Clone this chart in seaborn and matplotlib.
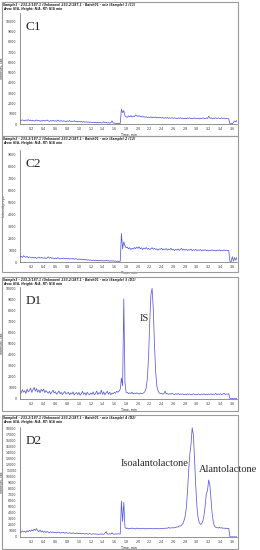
import numpy as np
import pandas as pd
import matplotlib
matplotlib.use("Agg")
import matplotlib.pyplot as plt
from matplotlib.patches import Rectangle
import seaborn as sns

# Retention time grid (min) shared by all four chromatograms
time = np.round(np.arange(0, 3.69, 0.02), 2)

# C1 - blank, isoalantolactone/alantolactone channel
c1 = [380, 340, 400, 360, 310, 390, 350, 420, 330, 370,
      300, 360, 280, 340, 390, 310, 350, 270, 330, 300,
      360, 290, 340, 380, 300, 260, 330, 290, 350, 280,
      320, 260, 380, 300, 270, 330, 250, 310, 280, 240,
      300, 260, 330, 220, 280, 250, 310, 230, 270, 210,
      250, 200, 260, 180, 230, 170, 220, 160, 200, 150,
      190, 140, 180, 120, 170, 110, 160, 130, 150, 100,
      140, 210, 120, 160, 90, 130, 80, 120, 300, 100,
      90, 60, 40, 70, 30,
      60, 1450, 1100, 1300, 800, 700,
      650, 780, 700, 820, 680, 760, 720, 880, 800,
      750, 820, 700, 760, 680, 720, 650, 700, 620, 680,
      640, 700, 600, 660, 620, 680, 590, 640, 600, 650,
      580, 630, 560, 610, 570, 640, 550, 600, 560, 620,
      540, 600, 560, 520, 590, 550, 610, 530, 570, 500,
      560, 520, 580, 540, 600, 510, 560, 530, 590, 540,
      520, 570, 500, 560, 530, 600, 550, 520, 580, 540,
      760, 560, 600, 520, 570, 540, 610, 530, 580, 550,
      520, 600, 540, 580, 510, 560, 530,
      500, 20, 40, 10, 150, 300, 200, 350]

# C2 - blank, IS channel
c2 = [420, 480, 380, 520, 450, 400, 470, 360, 430, 390,
      350, 410, 330, 390, 300, 360, 420, 320, 380, 340,
      310, 370, 290, 350, 430, 320, 380, 300, 340, 280,
      330, 270, 360, 300, 250, 320, 280, 340, 260, 300,
      270, 330, 240, 290, 260, 310, 230, 280, 250, 210,
      260, 200, 250, 180, 230, 170, 210, 160, 190, 140,
      170, 130, 160, 110, 150, 100, 140, 90, 130, 100,
      120, 80, 110, 150, 90, 120, 70, 100, 80, 110,
      60, 90, 50, 80, 40,
      60, 2400, 1100, 1700, 1350, 1200,
      1250, 1100, 1200, 1050, 1150, 1080, 1220, 1120, 1250,
      1150, 1280, 1100, 1200, 1050, 1180, 1100, 1220, 1080, 1150,
      1050, 1120, 1200, 1080, 1150, 1050, 1110, 1000, 1100, 1060,
      1150, 1020, 1100, 1050, 1130, 1000, 1080, 1040, 1150, 1020,
      1080, 960, 1060, 1000, 1100, 980, 1050, 1150, 1000, 1070,
      990, 1060, 970, 1040, 1000, 1080, 960, 1030, 990, 1060,
      950, 1020, 980, 1050, 940, 1010, 970, 1040, 960, 1000,
      930, 1000, 960, 1030, 950, 990, 920, 1000, 960, 1020,
      940, 990, 960, 1010, 950, 1000, 970,
      980, 60, 20, 450, 80, 380, 150, 400]

# D1 - spiked sample, IS channel
d1 = [700, 550, 850, 620, 760, 500, 900, 650, 780, 980,
      600, 850, 1050, 700, 950, 620, 820, 560, 880, 700,
      900, 580, 760, 640, 520, 700, 450, 620, 800, 540,
      660, 430, 580, 720, 480, 600, 400, 560, 680, 450,
      520, 620, 380, 560, 450, 640, 360, 520, 580, 400,
      600, 350, 480, 700, 420, 560, 340, 620, 460, 380,
      550, 420, 640, 380, 500, 720, 400, 580, 460, 800,
      420, 650, 380, 560, 700, 440, 620, 380, 540, 480,
      600, 520, 700, 620, 700,
      900, 1900, 1200, 9100, 1500, 600,
      600, 480, 560, 500, 620, 460, 540, 480, 560,
      500, 450, 540, 480, 520, 560, 700, 1000, 1900, 3800,
      7000, 9500, 10050, 8200, 5000, 2500, 1200, 750, 560, 480,
      520, 440, 480, 720, 460, 500, 420, 480, 440, 520,
      450, 400, 480, 430, 500, 410, 470, 420, 460, 400,
      440, 390, 470, 420, 450, 380, 430, 470, 410, 440,
      400, 460, 420, 380, 450, 410, 470, 390, 430, 400,
      450, 410, 480, 400, 440, 420, 500, 390, 460, 420,
      470, 400, 450, 520, 410, 460, 430,
      480, 40, 30, 50, 30, 40, 30, 40]

# D2 - spiked sample, analyte channel
d2 = [900, 800, 1000, 850, 950, 780, 1050, 880, 1100, 950,
      1200, 1000, 1300, 1100, 1400, 1050, 900, 1150, 850, 1000,
      800, 950, 750, 900, 820, 700, 880, 760, 840, 700,
      800, 680, 760, 820, 650, 740, 700, 780, 620, 720,
      680, 600, 720, 640, 580, 700, 620, 560, 660, 600,
      560, 640, 520, 600, 540, 500, 580, 520, 480, 560,
      500, 460, 540, 480, 520, 450, 500, 430, 520, 470,
      500, 440, 620, 900, 520, 460, 540, 480, 700, 500,
      460, 520, 480, 550, 500,
      520, 6000, 2600, 5800, 1600, 1400,
      1500, 1350, 1450, 1400, 1500, 1380, 1420, 1350, 1480,
      1400, 1450, 1350, 1420, 1380, 1460, 1340, 1400, 1440, 1360,
      1420, 1380, 1450, 1350, 1400, 1430, 1370, 1410, 1350, 1440,
      1400, 1380, 1460, 1420, 1500, 1450, 1600, 1480, 1520, 1550,
      1500, 1600, 1580, 1700, 1650, 1850, 1800, 2000, 2200, 2700,
      3400, 4800, 7500, 11000, 13800, 15500, 18200, 17000, 13000, 8500,
      5200, 3200, 2400, 2100, 2200, 2600, 3600, 5200, 7200, 7800,
      9500, 8600, 6200, 3800, 2400, 1800, 1600, 1550, 1500, 1600,
      1500, 1550, 1450, 1500, 1420, 1480, 1400,
      1450, 30, 20, 40, 20, 30, 20, 30]

panel_names = ["C1", "C2", "D1", "D2"]
traces = [c1, c2, d1, d2]
y_tops = [10800, 9420, 10180, 18330]
y_steps = [[0, 10000], [0, 9000], [0, 10000], [0, 18000]]
headers = [
    ["Sample1 - 233.2/187.1 (Unknown) 233.2/187.1 - Batch01 - m/z (Sample) 1 (C1)",
     "Area: N/A, Height: N/A, RT: N/A min"],
    ["Sample2 - 233.2/187.1 (Unknown) 233.2/187.1 - Batch01 - m/z (Sample) 2 (C2)",
     "Area: N/A, Height: N/A, RT: N/A min"],
    ["Sample3 - 233.2/187.1 (Unknown) 233.2/187.1 - Batch01 - m/z (Sample) 3 (D1)",
     "Area: N/A, Height: N/A, RT: N/A min"],
    ["Sample4 - 233.2/187.1 (Unknown) 233.2/187.1 - Batch01 - m/z (Sample) 4 (D2)",
     "Area: N/A, Height: N/A, RT: N/A min"],
]
peak_labels = {"D1": [("IS", 2.10, 7360)],
               "D2": [("Isoalantolactone", 2.29, 12170), ("Alantolactone", 3.53, 11170)]}

x_ticks = np.round(np.arange(0.2, 3.61, 0.2), 1)

# panel boxes (px from top) and plot areas (px from top)
box_px = [(2, 136), (136, 272), (277, 411), (415, 549)]
plot_px = [(13, 124), (150, 262), (287, 399), (427, 537)]

sns.set_style("white")
plt.rcParams["font.family"] = ["DejaVu Sans"]

W, H = 260, 550
fig = plt.figure(figsize=(W / 100, H / 100), dpi=100)
line_col = "#5a5ae0"

for k, name in enumerate(panel_names):
    top, bot = box_px[k]
    fig.add_artist(Rectangle((2 / W, 1 - bot / H), 236 / W, (bot - top) / H,
                             transform=fig.transFigure, fill=False,
                             edgecolor="#9a9a9a", linewidth=0.8))
    fig.text(3 / W, 1 - (top + 1.2) / H, headers[k][0], fontsize=2.2,
             fontweight="bold", style="italic", va="top", ha="left")
    fig.text(3 / W, 1 - (top + 5.0) / H, headers[k][1], fontsize=2.2,
             fontweight="bold", style="italic", va="top", ha="left")

    ptop, pbot = plot_px[k]
    ax = fig.add_axes([20 / W, 1 - pbot / H, 217 / W, (pbot - ptop) / H])
    df = pd.DataFrame({"time": time, "intensity": traces[k]})
    sns.lineplot(data=df, x="time", y="intensity", ax=ax, color=line_col,
                 linewidth=0.55)
    ax.set_xlim(0, 3.68)
    ax.set_ylim(0, y_tops[k])
    ax.set_xticks(x_ticks)
    ax.set_xticklabels([f"{v:.1f}" for v in x_ticks])
    yt = np.arange(y_steps[k][0], y_steps[k][1] + 1, 1000)
    ax.set_yticks(yt)
    ax.set_yticklabels([str(v) for v in yt])
    ax.tick_params(axis="both", labelsize=2.3, length=1.2, width=0.4, pad=1.2,
                   colors="#333333")
    for s in ["top", "right"]:
        ax.spines[s].set_visible(False)
    for s in ["left", "bottom"]:
        ax.spines[s].set_color("#666666")
        ax.spines[s].set_linewidth(0.5)
    ax.set_xlabel("Time, min", fontsize=2.3, labelpad=1.0)
    ax.set_ylabel("Intensity, cps", fontsize=2.3, labelpad=1.5)

    ax.text(0.025, 0.93, name, transform=ax.transAxes, fontsize=9.5,
            family="Liberation Serif", va="top", ha="left")
    for lab, tx, ty in peak_labels.get(name, []):
        ax.text(tx, ty, lab, fontsize=7.5, family="Liberation Serif",
                va="center", ha="center", clip_on=False)

fig.savefig("out.png", dpi=100)
